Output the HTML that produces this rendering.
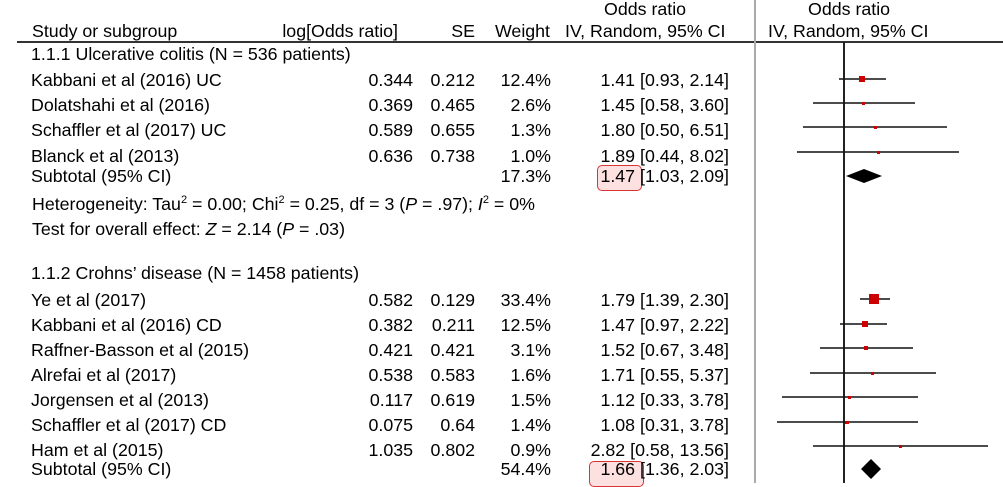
<!DOCTYPE html>
<html><head><style>
body{margin:0;width:1003px;height:483px;background:#fff;overflow:hidden;position:relative;font-family:"Liberation Sans",Arial,sans-serif;font-size:17.8px;color:#000}
.t{position:absolute;white-space:nowrap;line-height:20px}
.r{text-align:right}
.box{position:absolute;border:1px solid #d33;background:#fde0e0;border-radius:5px}
</style></head><body>
<div class="box" style="left:597px;top:165px;width:43px;height:24px"></div>
<div class="box" style="left:589px;top:461px;width:53px;height:24px"></div>
<div class="t" style="left:32px;top:21px">Study or subgroup</div>
<div class="t r" style="right:605px;top:21px">log[Odds ratio]</div>
<div class="t r" style="right:528px;top:21px">SE</div>
<div class="t r" style="right:453px;top:21px">Weight</div>
<div class="t" style="left:604px;top:-1px">Odds ratio</div>
<div class="t" style="left:565px;top:21px">IV, Random, 95% CI</div>
<div class="t" style="left:808px;top:-1px">Odds ratio</div>
<div class="t" style="left:768px;top:21px">IV, Random, 95% CI</div>
<div style="position:absolute;left:17px;top:41px;width:986px;height:2px;background:#333"></div>
<div style="position:absolute;left:754px;top:0;width:2px;height:483px;background:#aaa"></div>

<div class="t" style="left:31px;top:44px">1.1.1 Ulcerative colitis (N = 536 patients)</div>
<div id="rows"></div>
<div class="t" style="left:32px;top:194px">Heterogeneity: Tau<sup style="font-size:11px;line-height:0">2</sup> = 0.00; Chi<sup style="font-size:11px;line-height:0">2</sup> = 0.25, df = 3 (<i>P</i> = .97); <i>I</i><sup style="font-size:11px;line-height:0">2</sup> = 0%</div>
<div class="t" style="left:32px;top:219px">Test for overall effect: <i>Z</i> = 2.14 (<i>P</i> = .03)</div>
<div class="t" style="left:31px;top:263px">1.1.2 Crohns’ disease (N = 1458 patients)</div>

<svg width="1003" height="483" style="position:absolute;left:0;top:0">
<line x1="844" y1="42" x2="844" y2="483" stroke="#222" stroke-width="2"/>
<g stroke="#111" stroke-width="1.5">
<line x1="839" y1="79" x2="886" y2="79"/>
<line x1="813" y1="103" x2="915" y2="103"/>
<line x1="803" y1="127" x2="947" y2="127"/>
<line x1="797" y1="152" x2="959" y2="152"/>
<line x1="860" y1="299" x2="890" y2="299"/>
<line x1="840" y1="324" x2="887" y2="324"/>
<line x1="820" y1="348" x2="913" y2="348"/>
<line x1="810" y1="373" x2="936" y2="373"/>
<line x1="782" y1="397" x2="918" y2="397"/>
<line x1="777" y1="422" x2="918" y2="422"/>
<line x1="813" y1="446" x2="988" y2="446"/>
</g>
<g fill="#c00">
<rect x="859" y="76" width="6" height="6"/>
<rect x="862" y="102" width="3" height="3"/>
<rect x="874" y="126" width="3" height="3"/>
<rect x="877" y="151" width="3" height="3"/>
<rect x="869" y="294" width="10" height="10"/>
<rect x="862" y="321" width="6" height="6"/>
<rect x="864" y="346" width="4" height="4"/>
<rect x="871" y="372" width="3" height="3"/>
<rect x="848" y="396" width="3" height="3"/>
<rect x="845" y="421" width="4" height="3"/>
<rect x="899" y="445" width="3" height="3"/>
</g>
<polygon points="846,176 864,169 882,176 864,183" fill="#000"/>
<polygon points="861,469 871,459 881,469 871,479" fill="#000"/>
</svg>
<script>
var rows=[
[70,"Kabbani et al (2016) UC","0.344","0.212","12.4%","1.41 [0.93, 2.14]"],
[95,"Dolatshahi et al (2016)","0.369","0.465","2.6%","1.45 [0.58, 3.60]"],
[120,"Schaffler et al (2017) UC","0.589","0.655","1.3%","1.80 [0.50, 6.51]"],
[146,"Blanck et al (2013)","0.636","0.738","1.0%","1.89 [0.44, 8.02]"],
[166,"Subtotal (95% CI)","","","17.3%","1.47 [1.03, 2.09]"],
[290,"Ye et al (2017)","0.582","0.129","33.4%","1.79 [1.39, 2.30]"],
[315,"Kabbani et al (2016) CD","0.382","0.211","12.5%","1.47 [0.97, 2.22]"],
[340,"Raffner-Basson et al (2015)","0.421","0.421","3.1%","1.52 [0.67, 3.48]"],
[365,"Alrefai et al (2017)","0.538","0.583","1.6%","1.71 [0.55, 5.37]"],
[390,"Jorgensen et al (2013)","0.117","0.619","1.5%","1.12 [0.33, 3.78]"],
[415,"Schaffler et al (2017) CD","0.075","0.64","1.4%","1.08 [0.31, 3.78]"],
[440,"Ham et al (2015)","1.035","0.802","0.9%","2.82 [0.58, 13.56]"],
[459,"Subtotal (95% CI)","","","54.4%","1.66 [1.36, 2.03]"]];
var h="";rows.forEach(function(r){var y=r[0];
h+='<div class="t" style="left:31px;top:'+y+'px">'+r[1]+'</div>';
h+='<div class="t r" style="right:590px;top:'+y+'px">'+r[2]+'</div>';
h+='<div class="t r" style="right:528px;top:'+y+'px">'+r[3]+'</div>';
h+='<div class="t r" style="right:452px;top:'+y+'px">'+r[4]+'</div>';
h+='<div class="t r" style="right:274px;top:'+y+'px">'+r[5]+'</div>';});
document.getElementById("rows").innerHTML=h;
</script>
</body></html>
